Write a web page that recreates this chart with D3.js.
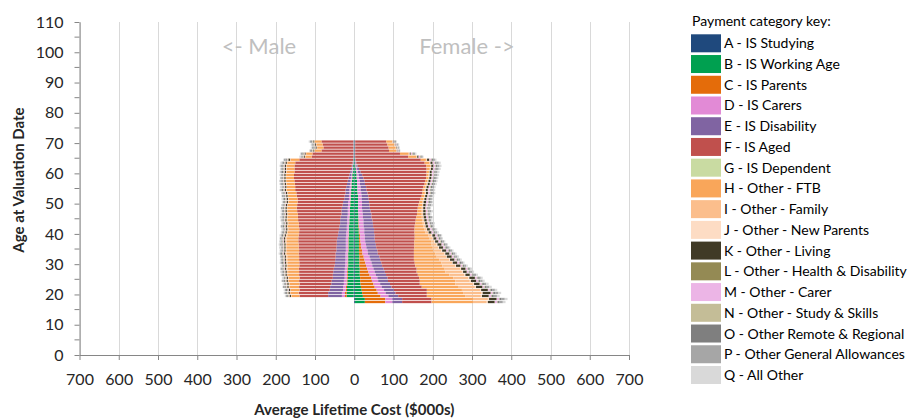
<!DOCTYPE html>
<html>
<head>
<meta charset="utf-8">
<script src="https://cdn.jsdelivr.net/npm/d3@7"></script>
<style>
  body { margin: 0; background: #fff; }
  svg { display: block; font-family: Lato, "Open Sans", sans-serif; }
</style>
</head>
<body>
<svg id="chart" width="915" height="419"></svg>
<script>
// Ages at valuation date (one bar per age, male to the left, female to the right)
const ages = [17,18,19,20,21,22,23,24,25,26,27,28,29,30,31,32,33,34,35,36,37,38,39,40,41,42,43,44,45,46,47,48,49,50,51,52,53,54,55,56,57,58,59,60,61,62,63,64,65,66,67,68,69,70];

// Payment categories, in stacking order from the centre outwards
const categoryLabels = [
  "A - IS Studying", "B - IS Working Age", "C - IS Parents", "D - IS Carers",
  "E - IS Disability", "F - IS Aged", "G - IS Dependent", "H - Other - FTB",
  "I - Other - Family", "J - Other - New Parents", "K - Other - Living",
  "L - Other - Health & Disability", "M - Other - Carer", "N - Other - Study & Skills",
  "O - Other Remote & Regional", "P - Other General Allowances", "Q - All Other"
];
const categoryColors = [
  "#1f497d", "#00a050", "#e46c0a", "#e28ad6", "#8064a2", "#c0504d", "#c9dba2",
  "#f9a65a", "#fbbe8c", "#fddcc4", "#403a26", "#948a54", "#ecb5e6", "#c4bd97",
  "#7f7f7f", "#a6a6a6", "#d9d9d9"
];

// Average lifetime cost ($000s) by age, female
const femaleA = [2,2,2, 2,2,2,2,2,2,2,2,2,2, 2,2,2,2,2,2,2,2,2,2, 1.5,1.5,1.5,1.5,1.5,1.5,1.5,1.5,1.5,1.5, 1.5,1.5,1.5,1.5,1,1,1,1,1,1, 1,1,1,1,1,1,1,1,1,1,1];
const femaleB = [25,25,20, 18,17,15,14,13,13,12,12,12,11, 11,11,11,10,10,10,10,10,10,10, 10,10,9,9,9,9,9,8,8,8, 8,8,8,7,7,7,6,6,5,5, 4,3,2,1,1,0.5,0.5,0.5,0.5,0.5,0.5];
const femaleC = [52,52,45, 40,38,35,33,30,28,25,22,19,17, 15,13,11,9,8,6,5,4,3,3, 2,2,1.5,1,1,0.5,0.3,0.3,0.3,0.3, 0.3,0.3,0.3,0.3,0.3,0.3,0.3,0.3,0.3,0.3, 0.3,0.3,0.3,0.3,0,0,0,0,0,0,0];
const femaleD = [18,18,20, 20,19,18,17,16,16,16,16,16,16, 16,15,15,14,14,13,13,12,12,12, 12,12,12,12,12,11,11,11,10,10, 10,9,9,9,8,8,7,7,6,5, 4,3,2,1,0.5,0.5,0.5,0.5,0.5,0.5,0.5];
const femaleE = [25,25,25, 25,25,25,25,25,26,26,26,26,25, 25,25,25,25,25,25,25,25,25,25, 25,25,24,24,23,22,22,21,20,19, 18,18,17,16,15,14,13,12,11,9, 7,5,3,2,1,0.5,0.5,0.5,0.5,0.5,0.5];
const femaleF = [75,75,73, 80,84,77,76,81,80,81,81,84,84, 85,86,88,92,93,97,98,100,102,102, 103,103,106,108,110,114,116,119,122,125, 128,132,136,140,143,146,152,155,160,164, 168,172,175,174,166,135,114,86,85,82,79];
const femaleG = [0.5,0.5,0.5, 0.3,0.3,0.3,0.3,0.3,0.3,0.3,0.3,0.3,0.3, 0,0,0,0,0,0,0,0,0,0, 0,0,0,0,0,0,0,0,0,0, 0,0,0,0,0,0,0,0,0,0, 0,0,0,0,0,0,0,0,0,0,0];
const femaleH = [105,105,97, 92,89,92,90,90,87,80,73,71,69, 68,65,58,55,50,47,44,44,38,35, 28,25,22,19,17,14,12,11,10,9, 8,7,6,6,5,5,5,5,5,5, 6,8,10,12,13,20,22,18,18,17,15];
const femaleI = [35,38,40, 47,46,43,45,37,38,38,42,40,33, 27,25,24,23,20,14,13,7,8,8, 7,6,5,5,4,4,3,3,3,2, 2,2,2,2,2,2,2,2,2,2, 1,2,2,2,2,2,2,1,1,1,1];
const femaleJ = [3,3,3, 3,3,3,3,3,3,3,3,2,2, 2,2,2,2,2,2,2,2,2,2, 1,1,1,1,1,1,1,1,1,1, 1,1,1,1,1,1,1,1,1,1, 1,1,1,1,1,1,1,1,1,1,1];
const femaleK = [17,19,17, 20,17,16,14,13,14,11,9,11,11, 11,11,12,10,10,10,10,8,7,7, 7,7,6,6,6,6,6,6,5,6, 6,5,5,5,5,5,5,5,5,5, 5,5,5,5,5,3,2,1,1,1,1];
const femaleL = [1,1,1, 1,1,1,1,1,1,1,1,1,1, 1,1,1,1,1,1,1,1,1,1, 1,1,1,1,1,1,1,1,1,1, 1,1,1,1,1,1,1,1,1,1, 1,1,1,1,1,1,1,1,1,1,1];
const femaleM = [5,5,5, 4,4,4,4,4,4,4,4,4,4, 4,4,4,4,4,4,4,4,4,4, 4,4,4,4,3,4,3,4,3,4, 4,3,3,4,4,3,3,3,3,4, 4,4,4,4,4,3,3,2,1,2,1];
const femaleN = [2,2,2, 2,2,2,2,2,2,2,2,2,2, 2,2,2,2,2,2,2,2,2,2, 2,2,2,2,2,2,2,2,2,2, 2,2,2,2,2,2,2,2,2,2, 2,2,2,2,2,2,2,1,1,1,1];
const femaleO = [5,5,5, 5,4,4,4,4,3,3,3,2,3, 3,3,3,3,3,3,3,3,3,3, 3,3,3,3,2,3,2,3,2,3, 3,3,3,3,3,3,3,3,3,3, 3,3,3,3,3,2,2,1,1,1,1];
const femaleP = [8,8,8, 8,7,7,6,6,5,6,5,4,5, 5,5,5,5,5,5,4,5,4,5, 5,5,4,5,4,5,4,5,4,5, 5,5,5,5,5,5,5,5,5,5, 5,5,6,6,5,3,4,2,2,3,3];
const femaleQ = [7,7,7, 7,6,6,6,5,5,5,4,4,4, 4,4,4,4,4,4,3,3,3,3, 4,4,3,4,3,4,3,4,3,4, 4,4,4,4,4,4,4,4,4,4, 5,5,5,5,4,2,3,1,2,2,2];

// Average lifetime cost ($000s) by age, male
const maleA = [0,0,1.5, 1.5,1.5,1.5,1.5,1.5,1.5,1.5,1.5,1.5,1.5, 1.5,1.5,1.5,1.5,1.5,1.5,1.5,1.5,1.5,1.5, 1.5,1.5,1.5,1.5,1.5,1,1,1,1,1, 1,1,1,1,1,1,1,1,1,1, 1,1,1,1,1,1,1,1,1,1,1];
const maleB = [0,0,18, 18,17,17,16,16,15,15,15,15,14, 14,14,14,14,13,13,13,13,13,12, 12,12,12,11,11,11,10,10,10,9, 9,8,8,7,7,6,6,5,4,4, 3,2,2,1,1,0.5,0.5,0.5,0.5,0.5,0.5];
const maleC = [0,0,4, 4,3,3,2,2,2,2,2,1.5,1.5, 1.5,1,1,1,1,1,1,1,1,1, 1,0.5,0.5,0.5,0.5,0.5,0.5,0.5,0.5,0.5, 0.5,0.5,0.5,0.5,0.5,0.5,0.5,0.5,0.5,0.5, 0.3,0.3,0.3,0.3,0,0,0,0,0,0,0];
const maleD = [0,0,8, 8,7,7,7,7,6,6,6,6,6, 6,6,6,6,6,6,6,6,6,6, 6,5,5,5,5,5,5,5,5,5, 5,4,4,4,4,4,3,3,3,2, 2,2,1,1,0.5,0.5,0.5,0.5,0.5,0.5,0.5];
const maleE = [0,0,35, 35,34,33,32,31,30,30,29,28,27, 26,26,25,25,24,24,23,23,22,21, 20,20,19,18,18,17,16,16,15,14, 13,12,11,10,10,9,8,7,6,5, 4,3,2,1,0.5,0.5,0.5,0.5,0.5,0.5,0.5];
const maleF = [0,0,73, 75,77,79,81,83,85,86,87,89,90, 91,92,93,94,95,96,97,98,99,100, 100,101,103,105,107,109,111,113,115,116, 116,119,122,125,128,130,133,136,139,141, 142,144,146,146,137,106,104,81,76,78,81];
const maleG = [0,0,0.3, 0.3,0.3,0.3,0.3,0.3,0,0,0,0,0, 0,0,0,0,0,0,0,0,0,0, 0,0,0,0,0,0,0,0,0,0, 0,0,0,0,0,0,0,0,0,0, 0,0,0,0,0,0,0,0,0,0,0];
const maleH = [0,0,20, 21,22,24,25,26,27,28,28,29,29, 30,30,30,31,31,30,30,30,30,29, 29,28,28,27,27,26,25,25,24,24, 23,23,22,22,22,21,21,21,20,20, 20,20,20,20,22,16,16,17,16,16,17];
const maleI = [0,0,1, 1,1,2,2,2,2,3,3,3,3, 3,3,3,3,3,3,3,3,3,3, 2,2,2,2,2,2,2,1,1,1, 1,1,1,1,1,1,1,1,1,1, 1,1,1,1,1,1,1,1,1,1,1];
const maleJ = [0,0,0.5, 0.5,0.5,0.5,0.5,0.5,0.5,0.5,0.5,0.5,0.5, 0.5,0.5,0.5,0.5,0.5,0.5,0.5,0.5,0.5,0.5, 0.5,0.5,0.5,0.5,0.5,0.5,0.5,0.5,0.5,0.5, 0.5,0.5,0.5,0.5,0.5,0.5,0.5,0.5,0.5,0.5, 0.5,0.5,0.5,0.5,0.5,0.5,0.5,0.5,0.5,0.5,0.5];
const maleK = [0,0,3, 3,3,3,3,3,3,3,3,3,3, 3,3,3,3,3,3,3,3,3,3, 3,3,3,3,3,3,3,3,3,3, 3,3,3,3,3,3,3,3,3,3, 3,3,3,3,4,2,2,2,2,2,2];
const maleL = [0,0,1, 1,1,1,1,1,1,1,1,1,1, 1,1,1,1,1,1,1,1,1,1, 1,1,1,1,1,1,1,1,1,1, 1,1,1,1,1,1,1,1,1,1, 1,1,1,1,1,1,1,1,1,1,1];
const maleM = [0,0,1.5, 1.5,1.5,1.5,1.5,1.5,1.5,1.5,1.5,1.5,1.5, 1.5,1.5,1.5,1.5,1.5,1.5,1.5,1.5,1.5,1.5, 1.5,1.5,1.5,1.5,1.5,1.5,1.5,1.5,1.5,1.5, 1.5,1.5,1.5,1.5,1.5,1.5,1.5,1.5,1.5,1.5, 1.5,1.5,1.5,1.5,1.5,1,1,1,1,1,1];
const maleN = [0,0,2, 2,2,2,2,2,2,2,2,2,2, 2,2,2,2,2,2,2,2,2,2, 2,2,2,2,2,2,2,2,2,2, 2,2,2,2,2,2,2,2,2,2, 2,2,2,2,2,2,2,2,2,2,2];
const maleO = [0,0,2, 2,3,2,2,3,2,2,3,2,2, 3,2,2,3,2,2,3,2,2,3, 2,2,3,2,2,3,2,2,3,2, 2,3,2,2,3,2,2,3,2,2, 3,2,2,3,3,2,2,2,2,2,2];
const maleP = [0,0,3, 4,3,5,3,4,2,4,3,5,3, 4,3,5,3,4,3,5,3,4,3, 4,3,5,3,4,3,5,3,4,3, 4,3,5,3,4,3,5,3,4,3, 4,3,5,3,4,3,4,3,4,3,3];
const maleQ = [0,0,3, 2,3,1,3,2,4,2,3,1,3, 2,3,1,3,2,4,2,3,1,3, 2,3,1,3,2,4,2,3,1,3, 2,3,1,3,2,4,2,3,1,3, 2,3,2,3,2,3,2,2,3,2,3];

// Axis ticks
const costTicks = [-700,-600,-500,-400,-300,-200,-100,0,100,200,300,400,500,600,700];
const ageTicks = [0,10,20,30,40,50,60,70,80,90,100,110];
const ageMinorTicks = [5,15,25,35,45,55,65,75,85,95,105];

const femaleSeries = [femaleA,femaleB,femaleC,femaleD,femaleE,femaleF,femaleG,femaleH,femaleI,femaleJ,femaleK,femaleL,femaleM,femaleN,femaleO,femaleP,femaleQ];
const maleSeries = [maleA,maleB,maleC,maleD,maleE,maleF,maleG,maleH,maleI,maleJ,maleK,maleL,maleM,maleN,maleO,maleP,maleQ];

const svg = d3.select("#chart");
const x = d3.scaleLinear().domain([-700, 700]).range([79.5, 629]);
const y = d3.scaleLinear().domain([0, 110]).range([355, 22]);
const axisColor = "#868686";
const textColor = "#262626";

// Vertical gridlines
svg.append("g").selectAll("line").data(costTicks).join("line")
  .attr("x1", d => Math.round(x(d)) + 0.5).attr("x2", d => Math.round(x(d)) + 0.5)
  .attr("y1", y(110)).attr("y2", y(0))
  .attr("stroke", "#d9d9d9").attr("stroke-width", 1);

// Stacked bars: one row per age, categories stacked outwards from zero
function stackRows(series, sign) {
  const rows = [];
  ages.forEach((age, i) => {
    let acc = 0;
    series.forEach((values, k) => {
      const v = values[i];
      if (v > 0) {
        rows.push({ age, k, x0: sign * acc, x1: sign * (acc + v) });
        acc += v;
      }
    });
  });
  return rows;
}
const gap = 0.75;
const bars = stackRows(maleSeries, -1).concat(stackRows(femaleSeries, 1));
svg.append("g").selectAll("rect").data(bars).join("rect")
  .attr("x", d => Math.min(x(d.x0), x(d.x1)))
  .attr("width", d => Math.abs(x(d.x1) - x(d.x0)))
  .attr("y", d => y(d.age + 1) + gap / 2)
  .attr("height", d => y(d.age) - y(d.age + 1) - gap)
  .attr("fill", d => categoryColors[d.k]);

// X axis
const xAxis = svg.append("g").attr("transform", `translate(0,${y(0)})`)
  .call(d3.axisBottom(x).tickValues(costTicks).tickFormat(d => Math.abs(d))
    .tickSize(5).tickSizeOuter(0).tickPadding(14));
// Y axis
const yAxis = svg.append("g").attr("transform", `translate(${x(-700)},0)`)
  .call(d3.axisLeft(y).tickValues(ageTicks).tickSize(5).tickSizeOuter(0).tickPadding(11));
yAxis.selectAll(".minor").data(ageMinorTicks).join("line").attr("class", "minor")
  .attr("x1", -5).attr("x2", 0).attr("y1", d => y(d)).attr("y2", d => y(d));

[xAxis, yAxis].forEach(g => {
  g.selectAll(".domain").attr("stroke", axisColor);
  g.selectAll("line").attr("stroke", axisColor);
  g.selectAll("text").attr("fill", textColor).style("font-size", "16px")
    .style("font-family", "Lato, 'Open Sans', sans-serif");
});

// Axis titles
svg.append("text").attr("x", x(0)).attr("y", 415).attr("text-anchor", "middle")
  .attr("font-weight", "bold").attr("font-size", 15).attr("fill", textColor)
  .text("Average Lifetime Cost ($000s)");
svg.append("text").attr("transform", "translate(24,180) rotate(-90)").attr("text-anchor", "middle")
  .attr("font-weight", "bold").attr("font-size", 15).attr("fill", textColor)
  .text("Age at Valuation Date");

// Side labels
svg.append("text").attr("x", 259).attr("y", 54).attr("text-anchor", "middle")
  .attr("font-size", 22).attr("fill", "#bfbfbf").text("<- Male");
svg.append("text").attr("x", 467).attr("y", 54).attr("text-anchor", "middle")
  .attr("font-size", 22).attr("fill", "#bfbfbf").text("Female ->");

// Legend
const legend = svg.append("g");
legend.append("text").attr("x", 692).attr("y", 26).attr("font-size", 14)
  .attr("fill", "#000").text("Payment category key:");
const item = legend.selectAll("g.item").data(categoryLabels).join("g").attr("class", "item")
  .attr("transform", (d, i) => `translate(691,${34.3 + i * 20.73})`);
item.append("rect").attr("width", 30).attr("height", 18).attr("fill", (d, i) => categoryColors[i]);
item.append("text").attr("x", 33).attr("y", 14).attr("font-size", 14).attr("fill", "#000").text(d => d);
</script>
</body>
</html>
